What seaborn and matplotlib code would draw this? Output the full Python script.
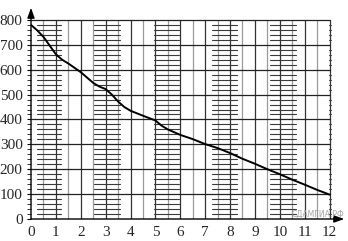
import matplotlib
matplotlib.use("Agg")
import matplotlib.pyplot as plt
import seaborn as sns
import numpy as np
import pandas as pd

# data
x_vals = [0, 0.25, 0.5, 0.75, 1, 1.25, 1.5, 2, 2.5, 2.75, 3, 3.25, 3.5, 3.75, 4, 4.5, 5, 5.25, 5.5, 6, 6.5, 7, 7.5, 8, 8.5, 9, 9.5, 10, 10.5, 11, 11.5, 12]
y_vals = [780, 758, 732, 697, 662, 640, 625, 590, 547, 532, 522, 500, 472, 450, 435, 415, 396, 375, 360, 338, 321, 301, 285, 265, 242, 222, 200, 180, 158, 138, 117, 98]
x_ticks = list(range(0, 13))
y_ticks = list(range(0, 900, 100))
watermark = "СДАМГИА.РФ"

sns.set_theme(style="white")
plt.rcParams['font.family'] = ['Liberation Serif', 'DejaVu Serif']

fig = plt.figure(figsize=(3.48, 2.41), dpi=100)
ax = fig.add_axes([31/348, 22/241, 316/348, 214/241])
ax.set_xlim(0, 12.7)
ax.set_ylim(0, 860)
for s in ax.spines.values():
    s.set_visible(False)

# grid
xmax, ymax = 12, 800
for v in np.arange(0.5, xmax + 0.01, 0.5):
    col = "#333333" if float(v).is_integer() else "#9a9a9a"
    ax.plot([v, v], [0, ymax], color=col, lw=0.9, zorder=1)
for h in y_ticks[1:]:
    ax.plot([0, xmax], [h, h], color="#222222", lw=0.9, zorder=1)

# hatching bands
bands = [(0.23, 1.22), (2.55, 3.56), (4.93, 5.94), (7.28, 8.29), (9.6, 10.65)]
minor_y = [y for y in range(20, 800, 20) if y % 100 != 0]
for a, b in bands:
    for y in minor_y:
        ax.plot([a, b], [y, y], color="#3a3a3a", lw=0.8, zorder=1)
# small dashes at right edge
for y in minor_y:
    ax.plot([xmax - 0.02, xmax + 0.06], [y, y], color="#444444", lw=0.8, zorder=1, clip_on=False)

# axes with arrows
ax.annotate("", xy=(0, 860), xytext=(0, -12), xycoords="data",
            arrowprops=dict(arrowstyle="-|>,head_length=0.5,head_width=0.18", color="black", lw=1.0),
            annotation_clip=False)
ax.annotate("", xy=(12.7, 0), xytext=(-0.12, 0), xycoords="data",
            arrowprops=dict(arrowstyle="-|>,head_length=0.5,head_width=0.18", color="black", lw=1.0),
            annotation_clip=False)

df = pd.DataFrame({"x": x_vals, "y": y_vals})
sns.lineplot(data=df, x="x", y="y", ax=ax, color="black", lw=1.4, zorder=5)

ax.set_xlabel("")
ax.set_ylabel("")
ax.set_xticks(x_ticks)
ax.set_xticklabels([str(t) for t in x_ticks])
ax.set_yticks(y_ticks)
ax.set_yticklabels([str(t) for t in y_ticks])
ax.set_yticks(minor_y, minor=True)
ax.tick_params(axis="y", which="major", length=3, width=0.8, color="black", pad=3, labelsize=11, left=True)
ax.tick_params(axis="y", which="minor", length=3, width=0.7, color="#333333", left=True)
ax.tick_params(axis="x", which="major", length=0, pad=5, labelsize=11)

fig.text(344/348, 1 - 214/241, watermark, fontsize=5.6, color="#a5a5a5",
         family=["DejaVu Sans"], va="center", ha="right")

fig.savefig("out.png", dpi=100)
